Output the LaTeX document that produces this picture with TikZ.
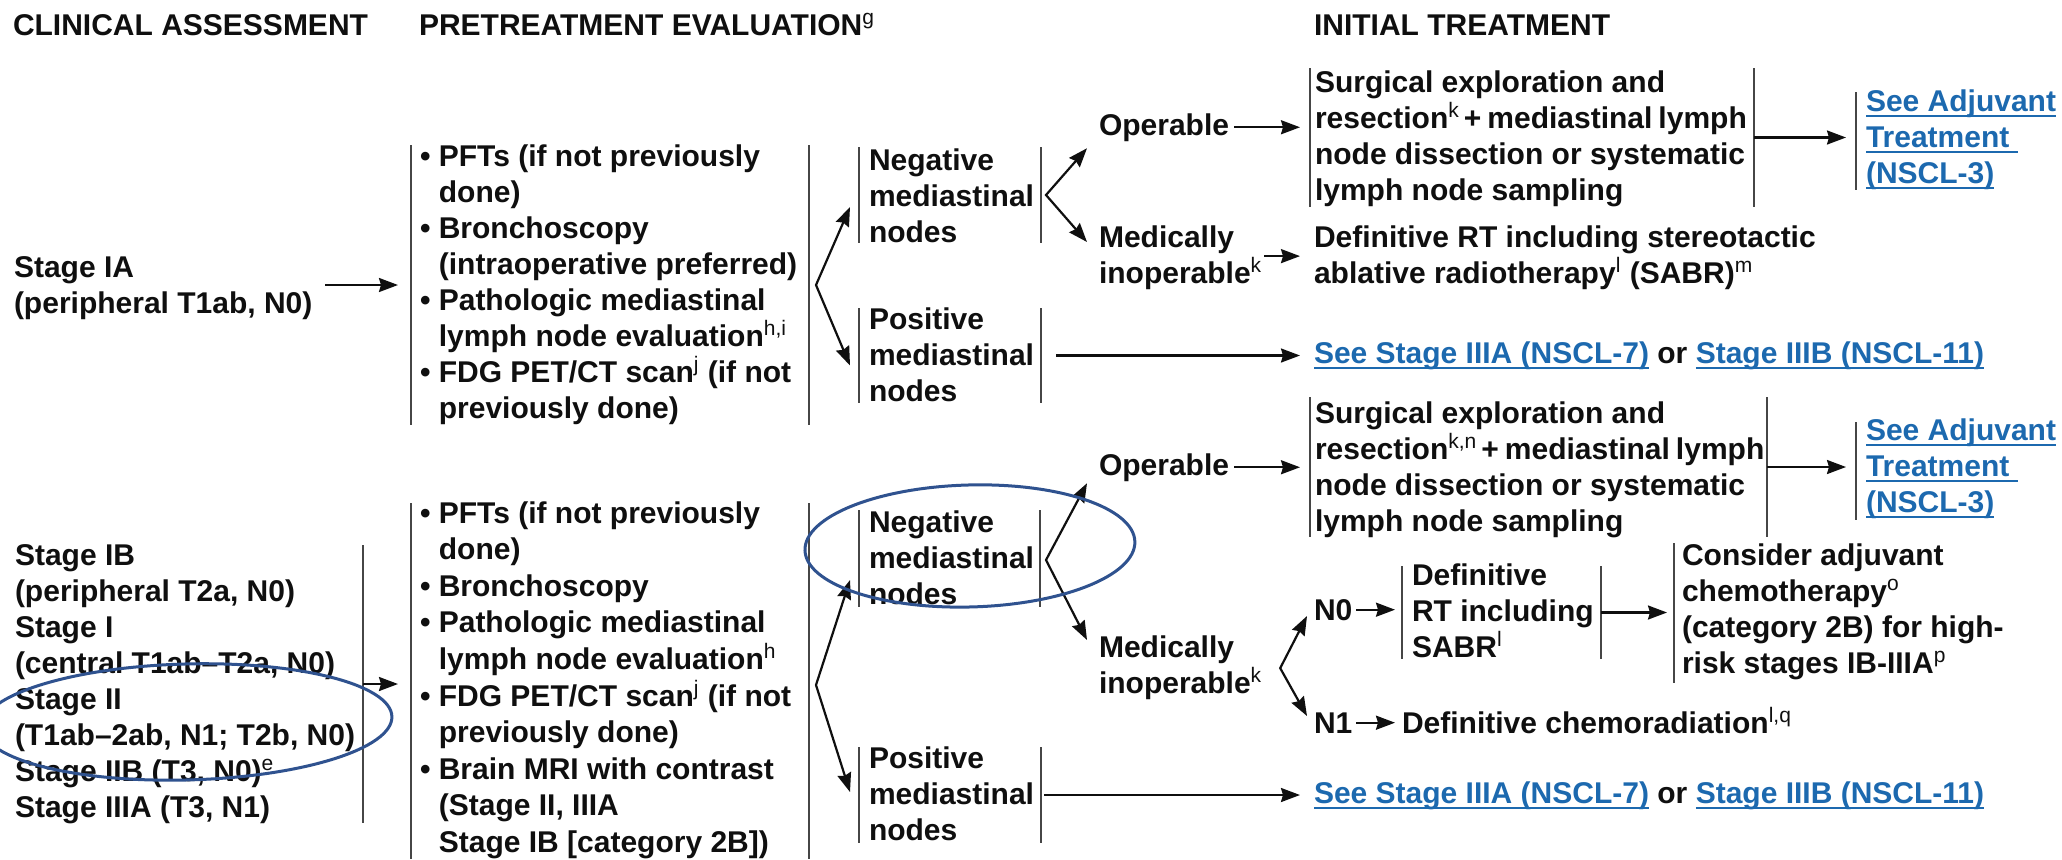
\documentclass[tikz,border=0pt]{standalone}
\usepackage{fontspec}
\setmainfont{Liberation Sans}
\usetikzlibrary{arrows.meta}

\definecolor{barcol}{RGB}{70,70,70}
\definecolor{inkcol}{RGB}{15,15,15}
\definecolor{linkcol}{RGB}{28,105,175}
\definecolor{ringcol}{RGB}{47,82,143}

\newcommand{\bodyfont}{\fontsize{15}{18}\selectfont\bfseries}
\newcommand{\sups}[1]{\textsuperscript{\mdseries #1}}
\newcommand{\fst}{\rule{0pt}{12pt}}
\newcommand{\bul}{\textbullet\ }
\newcommand{\ind}{\phantom{\textbullet\ }}
% a line set with slightly narrower word spaces
\newcommand{\tightline}[1]{{\spaceskip=0.2em\relax #1}}
% underlined link text
\newsavebox{\lnkbox}
\newcommand{\lnk}[1]{\textcolor{linkcol}{\sbox{\lnkbox}{#1}\rlap{\rule[-2.8pt]{\wd\lnkbox}{1pt}}\usebox{\lnkbox}}}

% bracket box: style, name, x1, y1, x2, y2 (pixel coordinates)
\newcommand{\bracketbox}[6]{%
  \pgfmathsetmacro{\bxw}{(#5-#3)/2}%
  \pgfmathsetmacro{\bxh}{(#6-#4)/2}%
  \node[#1, minimum width=\bxw pt, minimum height=\bxh pt] (#2) at ({(#3+#5)/2},{(#4+#6)/2}) {};}

\tikzset{
  txt/.style={anchor=north west, inner sep=0pt, outer sep=0pt, align=left, font=\bodyfont, text=inkcol},
  lab/.style={anchor=base west, inner sep=0pt, outer sep=0pt, font=\bodyfont, text=inkcol},
  box/.style={inner sep=0pt, outer sep=0pt},
  bar/.style={draw=barcol, line width=0.9pt},
  lbar/.style={box, append after command={(\tikzlastnode.north west) edge[bar] (\tikzlastnode.south west)}},
  rbar/.style={box, append after command={(\tikzlastnode.north east) edge[bar] (\tikzlastnode.south east)}},
  bars/.style={lbar, rbar},
  tip/.tip={Stealth[length=9.5pt, width=7pt, inset=1pt]},
  arr/.style={draw=inkcol, line width=1.1pt, -tip},
  arrs/.style={draw=inkcol, line width=1.1pt, tip-tip},
  ring/.style={draw=ringcol, line width=1.5pt},
}

\begin{document}
\begin{tikzpicture}[x=0.5pt, y=-0.5pt]
\fill[white] (0,0) rectangle (2062,859);
\useasboundingbox (0,0) rectangle (2062,859);

% column headings
\node[lab] (h1) at (13,35) {CLINICAL ASSESSMENT};
\node[lab] (h2) at (419,35) {PRETREATMENT EVALUATION\sups{g}};
\node[lab] (h3) at (1314,35) {INITIAL TREATMENT};

% ---------- Stage IA ----------
\node[txt] (s1) at (14,253) {\fst Stage IA\\(peripheral T1ab, N0)};

\bracketbox{bars}{p1}{411}{145}{809}{425}
\node[txt] (p1t) at (420,142) {\fst\bul PFTs (if not previously\\\ind done)\\\bul Bronchoscopy\\\ind (intraoperative preferred)\\\bul Pathologic mediastinal\\\ind lymph node evaluation\sups{h,i}\\\bul FDG PET/CT scan\sups{j} (if not\\\ind previously done)};

\bracketbox{bars}{neg1}{859}{147}{1041}{243}
\node[txt] (neg1t) at (869,146) {\fst Negative\\mediastinal\\nodes};
\bracketbox{bars}{pos1}{859}{308}{1041}{403}
\node[txt] (pos1t) at (869,305) {\fst Positive\\mediastinal\\nodes};

\node[lab] (op1) at (1099,135) {Operable};
\node[txt] (mi1) at (1099,223) {\fst Medically\\inoperable\sups{k}};

\bracketbox{bars}{sur1}{1310}{68}{1754}{207}
\node[txt] (sur1t) at (1315,68) {\fst Surgical exploration and\\\tightline{resection\sups{k}\hspace{2pt}+ mediastinal lymph}\\node dissection or systematic\\lymph node sampling};
\bracketbox{lbar}{adj1}{1856}{92}{2062}{190}
\node[txt] (adj1t) at (1866,87) {\fst\lnk{See Adjuvant}\\\lnk{Treatment\ }\\\lnk{(NSCL-3)}};

\node[txt] (def1) at (1314,223) {\fst Definitive RT including stereotactic\\ablative radiotherapy\sups{l} (SABR)\sups{m}};
\node[lab] (lk1) at (1314,363) {\lnk{See Stage IIIA (NSCL-7)} or \lnk{Stage IIIB (NSCL-11)}};

% ---------- Stage IB -- IIIA ----------
\node[txt] (s2t) at (15,541) {\fst Stage IB\\(peripheral T2a, N0)\\Stage I\\(central T1ab–T2a, N0)\\Stage II\\(T1ab–2ab, N1; T2b, N0)\\Stage IIB (T3, N0)\sups{e}\\Stage IIIA (T3, N1)};
\bracketbox{rbar}{s2}{15}{545}{363}{823}

\bracketbox{bars}{p2}{411}{503}{809}{859}
\node[txt, font={\fontsize{15}{18.3}\selectfont\bfseries}] (p2t) at (420,499) {\fst\bul PFTs (if not previously\\\ind done)\\\bul Bronchoscopy\\\bul Pathologic mediastinal\\\ind lymph node evaluation\sups{h}\\\bul FDG PET/CT scan\sups{j} (if not\\\ind previously done)\\\bul Brain MRI with contrast\\\ind (Stage II, IIIA\\\ind Stage IB [category 2B])};

\bracketbox{bars}{neg2}{859}{510}{1040}{607}
\node[txt] (neg2t) at (869,508) {\fst Negative\\mediastinal\\nodes};
\bracketbox{bars}{pos2}{859}{747}{1041}{843}
\node[txt] (pos2t) at (869,744) {\fst Positive\\mediastinal\\nodes};

\node[lab] (op2) at (1099,475) {Operable};
\bracketbox{bars}{sur2}{1310}{397}{1767}{537}
\node[txt] (sur2t) at (1315,399) {\fst Surgical exploration and\\\tightline{resection\sups{k,n}\hspace{2pt}+ mediastinal lymph}\\node dissection or systematic\\lymph node sampling};
\bracketbox{lbar}{adj2}{1856}{422}{2062}{520}
\node[txt] (adj2t) at (1866,416) {\fst\lnk{See Adjuvant}\\\lnk{Treatment\ }\\\lnk{(NSCL-3)}};

\node[txt] (mi2) at (1099,633) {\fst Medically\\inoperable\sups{k}};
\node[lab] (n0) at (1314,620) {N0};
\bracketbox{bars}{drt}{1402}{566}{1601}{659}
\node[txt] (drtt) at (1412,561) {\fst Definitive\\RT including\\SABR\sups{l}};
\bracketbox{lbar}{cons}{1674}{543}{2062}{683}
\node[txt] (const) at (1682,541) {\fst Consider adjuvant\\chemotherapy\sups{o}\\(category 2B) for high-\\risk stages IB-IIIA\sups{p}};
\node[lab] (n1) at (1314,733) {N1};
\node[lab] (chemo) at (1402,733) {Definitive chemoradiation\sups{l,q}};
\node[lab] (lk2) at (1314,803) {\lnk{See Stage IIIA (NSCL-7)} or \lnk{Stage IIIB (NSCL-11)}};

% ---------- connectors: Stage IA ----------
\draw[arr, shorten <=6.5pt, shorten >=6.5pt] (s1.east |- p1.west) -- (p1.west);
\coordinate (v1) at ([shift={(7,0)}]p1.east);
\draw[arrs] ([shift={(-9,12)}]neg1.west) -- (v1) -- ([shift={(-9,10)}]pos1.west);
\coordinate (v2) at ([shift={(5,0)}]neg1.east);
\draw[arrs] ([shift={(-12,7)}]op1.south west) -- (v2) -- ([shift={(-12,19)}]mi1.north west);
\draw[arr, shorten <=2.5pt, shorten >=5pt] (op1.east) -- (op1.east -| sur1.west);
\draw[arr, shorten <=1pt, shorten >=7pt] (mi1.east) -- (mi1.east -| def1.west);
\draw[arr, shorten >=5pt] (sur1.east) -- (sur1.east -| adj1.west);
\draw[arr, shorten <=7.5pt, shorten >=7pt] (pos1.east) -- (pos1.east -| lk1.west);

% ---------- connectors: Stage IB -- IIIA ----------
\draw[arr, shorten >=6.5pt] (s2.east) -- (s2.east -| p2.west);
\coordinate (v3) at ([shift={(7,4)}]p2.east);
\draw[arrs] ([shift={(-9,21.5)}]neg2.west) -- (v3) -- ([shift={(-9,-3)}]pos2.west);
\coordinate (v4) at ([shift={(6,1.5)}]neg2.east);
\draw[arrs] ([shift={(-12,2)}]op2.south west) -- (v4) -- ([shift={(-12,7)}]mi2.north west);
\draw[arr, shorten <=2.5pt, shorten >=5pt] (op2.east) -- (op2.east -| sur2.west);
\draw[arr, shorten >=5pt] (sur2.east) -- (sur2.east -| adj2.west);
\coordinate (v5) at ([shift={(18,2)}]mi2.east);
\draw[arrs] ([shift={(-7,-4)}]n0.base west) -- (v5) -- ([shift={(-7,-17)}]n1.base west);
\draw[arr, shorten <=2pt, shorten >=3.5pt] (n0.east) -- (n0.east -| drt.west);
\draw[arr, shorten >=3.5pt] (drt.east) -- (drt.east -| cons.west);
\draw[arr, shorten <=2pt, shorten >=3.5pt] (n1.east) -- (n1.east -| chemo.west);
\draw[arr, shorten <=1.5pt, shorten >=7pt] (pos2.east) -- (pos2.east -| lk2.west);

% ---------- hand-drawn highlight rings ----------
\coordinate (r1) at ([shift={(172,181)}]s2t.north west);
\draw[ring, rotate around={1.5:(r1)}] (r1) ellipse [x radius=205, y radius=58];
\coordinate (r2) at ([shift={(20.5,-12.5)}]neg2.center);
\draw[ring, rotate around={1.5:(r2)}] (r2) ellipse [x radius=165, y radius=61];
\end{tikzpicture}
\end{document}
